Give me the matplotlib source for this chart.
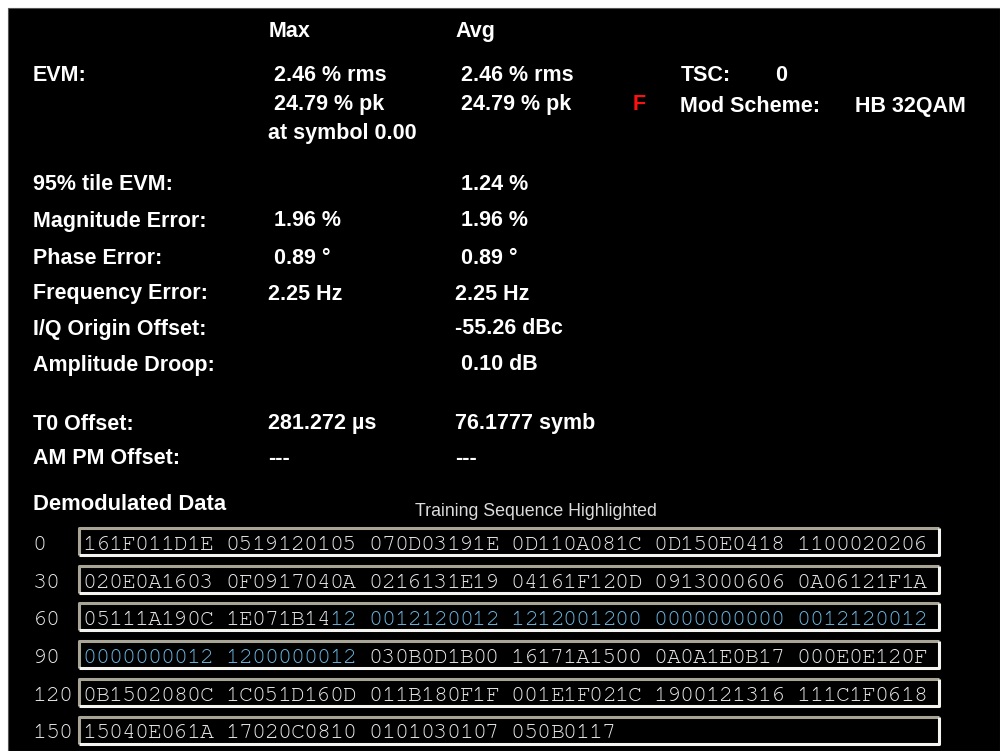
import matplotlib
matplotlib.use("Agg")
import matplotlib.pyplot as plt
from matplotlib.patches import Rectangle

# ---------------- data ----------------
col_headers = ["Max", "Avg"]

evm_label = "EVM:"
evm_max = [" 2.46 % rms", " 24.79 % pk", "at symbol 0.00"]
evm_avg = [" 2.46 % rms", " 24.79 % pk"]
fail_flag = "F"

tsc_label = "TSC:"
tsc_value = "0"
mod_label = "Mod Scheme:"
mod_value = "HB 32QAM"

metric_labels = ["95% tile EVM:", "Magnitude Error:", "Phase Error:", "Frequency Error:",
                 "I/Q Origin Offset:", "Amplitude Droop:", "T0 Offset:", "AM PM Offset:"]
metric_max = ["", " 1.96 %", " 0.89 \u00b0", "2.25 Hz", "", "", "281.272 \u00b5s", "---"]
metric_avg = [" 1.24 %", " 1.96 %", " 0.89 \u00b0", "2.25 Hz", "-55.26 dBc", " 0.10 dB",
              "76.1777 symb", "---"]

demod_title = "Demodulated Data"
demod_note = "Training Sequence Highlighted"
row_offsets = [0, 30, 60, 90, 120, 150]
demod_rows = [
    "161F011D1E 0519120105 070D03191E 0D110A081C 0D150E0418 1100020206",
    "020E0A1603 0F0917040A 0216131E19 04161F120D 0913000606 0A06121F1A",
    "05111A190C 1E071B1412 0012120012 1212001200 0000000000 0012120012",
    "0000000012 1200000012 030B0D1B00 16171A1500 0A0A1E0B17 000E0E120F",
    "0B1502080C 1C051D160D 011B180F1F 001E1F021C 1900121316 111C1F0618",
    "15040E061A 17020C0810 0101030107 050B0117",
]
tsc_first, tsc_last = 69, 99   # highlighted training-sequence symbols

# ---------------- layout / style ----------------
W, H = 1000, 751
BG = "#000000"
WHITE = "#ffffff"
HEX_C = "#e8e8e8"
TSC_C = "#6ab4dc"
RED = "#ff1010"
SANS = ["Liberation Sans", "DejaVu Sans"]
MONO = ["Courier New", "Nimbus Mono PS", "FreeMono", "Courier", "Liberation Mono",
        "DejaVu Sans Mono"]
LBL_FS = 15.5
MONO_FS = 16.8
CHAR_W = 12.98

fig = plt.figure(figsize=(W / 100, H / 100), dpi=100, facecolor="white")
ax = fig.add_axes([0, 0, 1, 1])
ax.set_xlim(0, W)
ax.set_ylim(H, 0)
ax.axis("off")
ax.add_patch(Rectangle((8, 8), W - 8, H - 8, facecolor=BG, edgecolor="#555555", lw=0.8))


def bold(x, y, s, color=WHITE, fs=LBL_FS):
    ax.text(x, y, s, color=color, fontsize=fs, fontweight="bold", family=SANS,
            ha="left", va="baseline")


def mono_char(x, y, c, color):
    ax.text(x, y, c, color=color, fontsize=MONO_FS, family=MONO,
            ha="center", va="baseline")


x_lbl, x_max, x_avg = 33, 268, 455
# headers
bold(x_max + 1, 37, col_headers[0])
bold(x_avg, 37, col_headers[1])

# EVM block
evm_base = [81, 110, 139]
bold(x_lbl, evm_base[0], evm_label)
for s, y in zip(evm_max, evm_base):
    bold(x_max, y, s)
for s, y in zip(evm_avg, evm_base):
    bold(x_avg, y, s)
bold(633, evm_base[1], fail_flag, color=RED)
bold(681, evm_base[0], tsc_label)
bold(775, evm_base[0], tsc_value)
bold(680, evm_base[1] + 2, mod_label)
bold(855, evm_base[1] + 2, mod_value)

# metric rows
metric_base = [190.5, 226.5, 263.5, 299.5, 334.5, 370.5, 429.5, 464.5]
for lab, mx, av, y in zip(metric_labels, metric_max, metric_avg, metric_base):
    bold(x_lbl, y, lab)
    if mx:
        bold(x_max, y, mx)
    if av:
        bold(x_avg, y, av)

# demodulated data
bold(x_lbl, 510, demod_title, fs=15.8)
ax.text(415, 516, demod_note, color="#dcdcdc", fontsize=12.8, family=SANS,
        ha="left", va="baseline")

row_pitch = 37.7
box_x0, box_x1 = 79, 939
for r, (off, row) in enumerate(zip(row_offsets, demod_rows)):
    top = 528 + r * row_pitch
    bot = top + 27
    # 3-D style frame: darker top/left, bright bottom/right
    ax.plot([box_x0, box_x0, box_x1], [bot, top, top], color="#a8a496", lw=2.2,
            solid_capstyle="butt")
    ax.plot([box_x0, box_x1, box_x1], [bot, bot, top], color="#f4f4f0", lw=2.2,
            solid_capstyle="butt")
    base = 550 + r * row_pitch
    for i, c in enumerate(str(off)):
        mono_char(x_lbl + CHAR_W * (i + 0.5), base, c, HEX_C)
    for i, c in enumerate(row):
        if c == " ":
            continue
        g, pos = divmod(i, 11)
        sym_idx = off + g * 5 + pos // 2
        col = TSC_C if tsc_first <= sym_idx <= tsc_last else HEX_C
        mono_char(83 + CHAR_W * (i + 0.5), base, c, col)

fig.savefig("out.png", dpi=100, facecolor=fig.get_facecolor())
